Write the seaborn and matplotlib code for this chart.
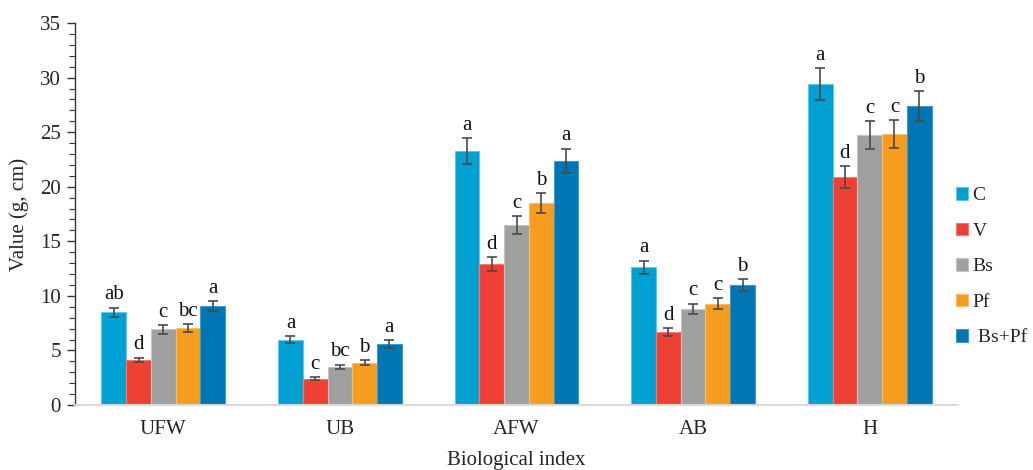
import numpy as np
import pandas as pd
import matplotlib
matplotlib.use("Agg")
import matplotlib.pyplot as plt
import seaborn as sns
from matplotlib.ticker import MultipleLocator

categories = ["UFW", "UB", "AFW", "AB", "H"]
treatments = ["C", "V", "Bs", "Pf", " Bs+Pf"]

val_C = [8.5, 6.0, 23.3, 12.6, 29.4]
val_V = [4.15, 2.4, 12.9, 6.7, 20.9]
val_Bs = [6.95, 3.5, 16.5, 8.8, 24.75]
val_Pf = [7.05, 3.85, 18.5, 9.3, 24.8]
val_BsPf = [9.05, 5.6, 22.4, 11.0, 27.4]

err_C = [0.43, 0.34, 1.18, 0.64, 1.48]
err_V = [0.2, 0.13, 0.64, 0.37, 1.02]
err_Bs = [0.4, 0.2, 0.82, 0.49, 1.27]
err_Pf = [0.33, 0.23, 0.93, 0.49, 1.27]
err_BsPf = [0.46, 0.37, 1.1, 0.55, 1.37]

let_C = ["ab", "a", "a", "a", "a"]
let_V = ["d", "c", "d", "d", "d"]
let_Bs = ["c", "bc", "c", "c", "c"]
let_Pf = ["bc", "b", "b", "c", "c"]
let_BsPf = ["a", "a", "a", "b", "b"]

colors = ["#00A0D2", "#EE4035", "#A0A0A0", "#F69C1F", "#0075B3"]
edges = ["#5BC8EE", "#F47A70", "#C4C4C4", "#F9BE6A", "#3A9BD0"]

values = [val_C, val_V, val_Bs, val_Pf, val_BsPf]
errors = [err_C, err_V, err_Bs, err_Pf, err_BsPf]
letters = [let_C, let_V, let_Bs, let_Pf, let_BsPf]

rows = []
for t, vals in zip(treatments, values):
    for c, v in zip(categories, vals):
        rows.append({"Biological index": c, "Treatment": t, "Value": v})
df = pd.DataFrame(rows)

sns.set_style("white")
plt.rcParams["font.family"] = ["Liberation Serif", "DejaVu Serif"]

fig = plt.figure(figsize=(10.33, 4.70), dpi=100)
ax = fig.add_axes([0.0726, 0.1383, 0.8548, 0.8127])

sns.barplot(data=df, x="Biological index", y="Value", hue="Treatment",
            order=categories, hue_order=treatments, palette=colors,
            saturation=1, width=0.7, errorbar=None, ax=ax, legend=True,
            linewidth=0.8)

bar_containers = list(ax.containers)
for k, cont in enumerate(bar_containers):
    xs = []
    for p in cont.patches:
        p.set_edgecolor(edges[k])
        p.set_linewidth(0.8)
        xs.append(p.get_x() + p.get_width() / 2)
    ax.errorbar(xs, values[k], yerr=errors[k], fmt="none", ecolor="#4a4a4a",
                elinewidth=1.2, capsize=3.8, capthick=1.2, zorder=5)
    for x, v, e, lt in zip(xs, values[k], errors[k], letters[k]):
        ax.text(x, v + e + 0.3, lt, ha="center", va="bottom", fontsize=15,
                color="#111111")

ax.set_ylim(0, 35)
ax.set_xlim(-0.5, 4.5)
ax.yaxis.set_major_locator(MultipleLocator(5))
ax.yaxis.set_minor_locator(MultipleLocator(1))
ax.tick_params(axis="y", which="major", direction="out", length=6, width=1,
               color="#333333", labelsize=15, left=True, pad=4)
ax.tick_params(axis="y", which="minor", direction="out", length=4, width=0.8,
               color="#333333", left=True)
ax.tick_params(axis="x", length=0, labelsize=15, pad=11)

for s in ["top", "right"]:
    ax.spines[s].set_visible(False)
ax.spines["left"].set_color("#333333")
ax.spines["left"].set_linewidth(1)
ax.spines["bottom"].set_color("#D9D9D9")
ax.spines["bottom"].set_linewidth(1.5)

ax.set_ylabel("Value (g, cm)", fontsize=15, labelpad=8)
ax.set_xlabel("Biological index", fontsize=15, labelpad=8.5)

leg = ax.legend(loc="center left", bbox_to_anchor=(0.918, 0.432),
                bbox_transform=fig.transFigure, frameon=False, fontsize=14,
                handlelength=0.6, handleheight=0.6, handletextpad=0.25,
                labelspacing=0.95, borderaxespad=0)
for h, e in zip(leg.legend_handles, edges):
    h.set_edgecolor(e)

fig.savefig("out.png", dpi=100, facecolor="white")
